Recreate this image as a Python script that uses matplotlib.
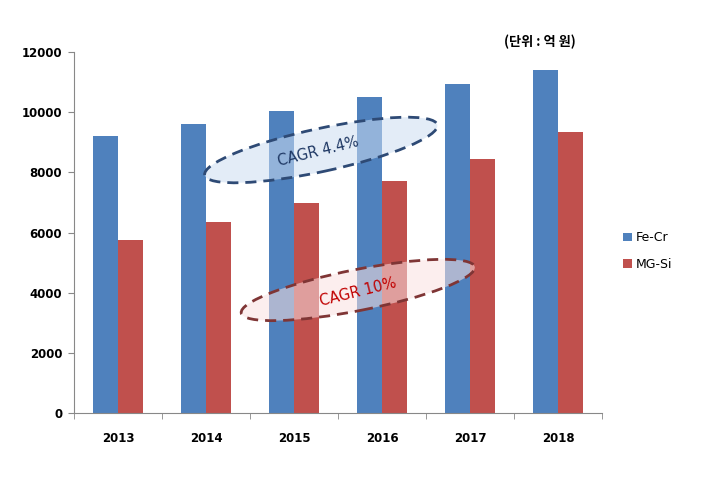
import matplotlib
matplotlib.use("Agg")
import matplotlib.pyplot as plt
import numpy as np
from matplotlib.patches import Ellipse

years = ["2013", "2014", "2015", "2016", "2017", "2018"]
fe_cr = [9200, 9600, 10050, 10500, 10950, 11400]
mg_si = [5750, 6350, 6980, 7710, 8440, 9330]
series_names = ["Fe-Cr", "MG-Si"]
yticks = [0, 2000, 4000, 6000, 8000, 10000, 12000]

plt.rcParams['font.family'] = ['DejaVu Sans', 'Noto Sans CJK KR']

fig = plt.figure(figsize=(7.09, 4.91), dpi=100)
ax = fig.add_axes([74/709, 1-413/491, (602-74)/709, (413-52)/491])

x = np.arange(len(years))
w = 0.285
ax.bar(x - w/2, fe_cr, w, color="#4F81BD", label=series_names[0], zorder=2)
ax.bar(x + w/2, mg_si, w, color="#C0504D", label=series_names[1], zorder=2)

ax.set_xlim(-0.5, len(years) - 0.5)
ax.set_ylim(0, 12000)
ax.set_yticks(yticks)
ax.set_yticklabels([str(v) for v in yticks], fontsize=8.5, fontweight='bold')
ax.set_xticks(x)
ax.set_xticklabels(years, fontsize=8.5, fontweight='bold')
ax.set_xticks(np.arange(len(years) + 1) - 0.5, minor=True)
ax.tick_params(axis='x', which='major', length=0, pad=14)
ax.tick_params(axis='x', which='minor', length=4.5, color='#888888', direction='out')
ax.tick_params(axis='y', length=4.5, color='#888888', direction='out', pad=4)
for s in ['top', 'right']:
    ax.spines[s].set_visible(False)
for s in ['left', 'bottom']:
    ax.spines[s].set_color('#888888')

leg = fig.legend(loc='upper left', bbox_to_anchor=(612/709, 1-220/491), frameon=False,
                 fontsize=9, handlelength=0.7, handleheight=0.7, handletextpad=0.3,
                 labelspacing=1.1)

fig.text(540/709, 1-42/491, "(단위 : 억 원)", ha='center', va='center', fontsize=9.5,
         fontweight='bold', family=['Noto Sans CJK KR', 'DejaVu Sans'])


def px(xp, yp):
    return (xp/100, (491-yp)/100)


def fpx(xp, yp):
    return (xp/709, 1-yp/491)


# CAGR ellipses (pixel-based annotations)
e1 = Ellipse(px(321, 150), 2.38, 0.43, angle=12.2, transform=fig.dpi_scale_trans,
             facecolor=(0.80, 0.87, 0.95, 0.55), edgecolor='#2E4A75', linestyle=(0, (4, 2.5)),
             linewidth=2.0, zorder=5)
fig.add_artist(e1)
fig.text(*fpx(318, 152), "CAGR 4.4%",
         ha='center', va='center', rotation=14, fontsize=10.5, color='#1F3864', zorder=6)

e2 = Ellipse(px(358, 290), 2.38, 0.41, angle=11.2, transform=fig.dpi_scale_trans,
             facecolor=(0.98, 0.88, 0.88, 0.55), edgecolor='#7F3535', linestyle=(0, (4, 2.5)),
             linewidth=2.0, zorder=5)
fig.add_artist(e2)
fig.text(*fpx(358, 292), "CAGR 10%",
         ha='center', va='center', rotation=14, fontsize=10.5, color='#C00000', zorder=6)

fig.savefig("out.png", dpi=100)
